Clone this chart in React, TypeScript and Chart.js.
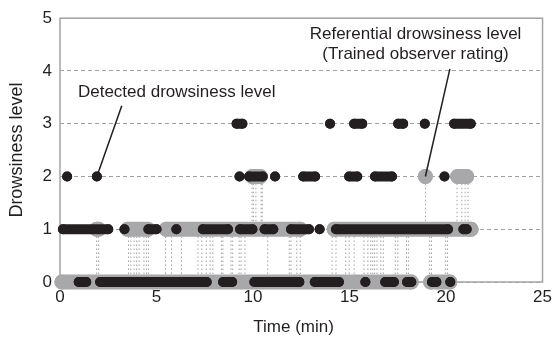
import React, { useEffect, useRef } from "react";
import { Chart, registerables } from "chart.js";

Chart.register(...registerables);

// ---- data (time in minutes, drowsiness level) ----
const xTickValues = [0, 5, 10, 15, 20, 25];
const yTickValues = [0, 1, 2, 3, 4, 5];

// Detected drowsiness level: runs of consecutive detections [start, end]
const detectedLevel0 = [[0.97, 1.36], [2.08, 7.6], [8.45, 8.92], [10.07, 12.4], [13.2, 14.45], [15.82, 15.82], [16.85, 17.3], [17.98, 18.2], [19.27, 19.5], [20.22, 20.22]];
const detectedLevel1 = [[0.15, 2.5], [3.34, 3.34], [4.58, 5.0], [6.03, 6.03], [7.4, 8.7], [9.33, 9.97], [10.6, 11.05], [11.97, 12.9], [13.45, 13.45], [14.3, 20.1], [20.9, 21.07]];
const detectedLevel2 = [[0.37, 0.37], [1.91, 1.91], [9.3, 9.3], [9.8, 10.5], [11.14, 11.14], [12.6, 13.22], [14.98, 15.4], [16.32, 17.2], [19.92, 19.92]];
const detectedLevel3 = [[9.15, 9.45], [13.99, 13.99], [15.24, 15.66], [17.52, 17.78], [18.9, 18.9], [20.42, 21.28]];

// Referential drowsiness level (trained observer rating): dwell periods [start, end]
const referentialLevel0 = [[0.1, 18.2], [19.2, 20.2]];
const referentialLevel1 = [[1.9, 2.0], [3.5, 4.55], [5.5, 12.45], [14.2, 21.3]];
const referentialLevel2 = [[9.96, 10.38], [18.93, 18.93], [20.6, 21.07]];
// Referential level changes (dotted connectors)
const referentialChanges01 = [1.9, 2.0, 3.55, 3.67, 3.84, 3.97, 4.1, 4.35, 4.48, 4.58, 5.47, 5.78, 6.29, 7.15, 7.35, 7.58, 7.78, 7.92, 8.36, 8.44, 8.86, 8.95, 9.28, 9.38, 9.58, 10.76, 11.88, 11.97, 12.27, 12.45, 14.1, 14.3, 14.8, 14.98, 15.24, 15.75, 15.95, 16.1, 16.2, 16.3, 16.42, 16.62, 16.75, 17.37, 17.5, 17.95, 18.05, 19.15, 19.25, 19.98, 20.08];
const referentialChanges12 = [9.95, 10.02, 10.15, 10.42, 10.48, 18.93, 20.57, 20.82, 20.99, 21.14];

const FONT = "'Liberation Sans', Arial, Helvetica, sans-serif";
const INK = "#231f20";
const GRAY = "#a8a8aa";

type Pt = { x: number; y: number | null };

function runsToPoints(runs: number[][], level: number): Pt[] {
  const pts: Pt[] = [];
  runs.forEach(([a, b]) => {
    pts.push({ x: a, y: level });
    if (b !== a) pts.push({ x: b, y: level });
    pts.push({ x: b, y: null });
  });
  return pts;
}

function changesToPoints(times: number[], lo: number, hi: number): Pt[] {
  const pts: Pt[] = [];
  times.forEach((t) => {
    pts.push({ x: t, y: lo }, { x: t, y: hi }, { x: t, y: null });
  });
  return pts;
}

const annotationPlugin = {
  id: "annotations",
  beforeDatasetsDraw(chart: any) {
    const { ctx, chartArea } = chart;
    ctx.save();
    ctx.strokeStyle = "#a4a4a4";
    ctx.lineWidth = 1.5;
    ctx.strokeRect(chartArea.left, chartArea.top, chartArea.right - chartArea.left, chartArea.bottom - chartArea.top);
    ctx.restore();
  },
  afterDatasetsDraw(chart: any) {
    const { ctx } = chart;
    const xs = chart.scales.x;
    const ys = chart.scales.y;
    const px = (v: number) => xs.getPixelForValue(v);
    const py = (v: number) => ys.getPixelForValue(v);
    ctx.save();
    ctx.strokeStyle = INK;
    ctx.lineWidth = 1.5;
    const leaders = [
      [[3.2, 3.34], [1.91, 2]],
      [[20.2, 4.04], [18.93, 2]],
    ];
    leaders.forEach(([a, b]) => {
      ctx.beginPath();
      ctx.moveTo(px(a[0]), py(a[1]));
      ctx.lineTo(px(b[0]), py(b[1]));
      ctx.stroke();
    });
    ctx.fillStyle = INK;
    ctx.font = `17px ${FONT}`;
    ctx.textBaseline = "middle";
    ctx.textAlign = "left";
    ctx.fillText("Detected drowsiness level", px(0.93), py(3.6));
    ctx.textAlign = "center";
    ctx.fillText("Referential drowsiness level", px(18.42), py(4.69));
    ctx.fillText("(Trained observer rating)", px(18.42), py(4.32));
    // x axis title
    ctx.font = `17px ${FONT}`;
    ctx.fillText("Time (min)", px(12.1), 327);
    ctx.restore();
  },
};

export default function App() {
  const canvasRef = useRef<HTMLCanvasElement>(null);

  useEffect(() => {
    const canvas = canvasRef.current;
    if (!canvas) return;

    const detected = [
      ...runsToPoints(detectedLevel0, 0),
      ...runsToPoints(detectedLevel1, 1),
      ...runsToPoints(detectedLevel2, 2),
      ...runsToPoints(detectedLevel3, 3),
    ];
    const refBands = [
      ...runsToPoints(referentialLevel0, 0),
      ...runsToPoints(referentialLevel1, 1),
      ...runsToPoints(referentialLevel2, 2),
    ];
    const refChanges = [
      ...changesToPoints(referentialChanges01, 0, 1),
      ...changesToPoints(referentialChanges12, 1, 2),
    ];

    const chart = new Chart(canvas, {
      type: "line",
      data: {
        datasets: [
          {
            label: "Detected drowsiness level",
            data: detected as any,
            borderColor: INK,
            backgroundColor: INK,
            borderWidth: 10,
            borderCapStyle: "round",
            pointRadius: 5,
            pointBorderWidth: 0,
            pointBackgroundColor: INK,
            spanGaps: false,
            order: 0,
            clip: false as any,
          },
          {
            label: "Referential drowsiness level",
            data: refBands as any,
            borderColor: GRAY,
            backgroundColor: GRAY,
            borderWidth: 15,
            borderCapStyle: "round",
            pointRadius: 7.5,
            pointBorderWidth: 0,
            pointBackgroundColor: GRAY,
            spanGaps: false,
            order: 1,
            clip: false as any,
          },
          {
            label: "Referential changes",
            data: refChanges as any,
            borderColor: "#a2a2a2",
            borderWidth: 1,
            borderDash: [1.5, 2.5],
            pointRadius: 0,
            spanGaps: false,
            order: 2,
            clip: false as any,
          },
        ],
      },
      options: {
        animation: false,
        responsive: false,
        devicePixelRatio: 1,
        events: [],
        layout: { padding: { top: 11, right: 13, left: 0, bottom: 0 } },
        plugins: { legend: { display: false }, tooltip: { enabled: false } },
        scales: {
          x: {
            type: "linear",
            min: 0,
            max: 25,
            afterBuildTicks: (s: any) => {
              s.ticks = xTickValues.map((v) => ({ value: v }));
            },
            ticks: { color: INK, font: { size: 17, family: FONT }, padding: 5 },
            grid: { display: false, drawTicks: false },
            border: { display: false },
            title: { display: false },
            afterFit: (s: any) => {
              s.height = 60;
            },
          },
          y: {
            type: "linear",
            min: 0,
            max: 5,
            afterBuildTicks: (s: any) => {
              s.ticks = yTickValues.map((v) => ({ value: v }));
            },
            ticks: { color: INK, font: { size: 17, family: FONT }, padding: 8 },
            grid: { color: "#a0a0a0", lineWidth: 1, drawTicks: false },
            border: { display: false, dash: [4, 3] },
            title: {
              display: true,
              text: "Drowsiness level",
              color: INK,
              font: { size: 18, family: FONT },
              padding: { top: 6, bottom: 0 },
            },
            afterFit: (s: any) => {
              s.width = 60;
            },
          },
        },
      },
      plugins: [annotationPlugin],
    });

    return () => chart.destroy();
  }, []);

  return (
    <div style={{ position: "fixed", left: 0, top: 0, width: 557, height: 342, background: "#fff" }}>
      <canvas ref={canvasRef} width={557} height={342} style={{ display: "block" }} />
    </div>
  );
}
